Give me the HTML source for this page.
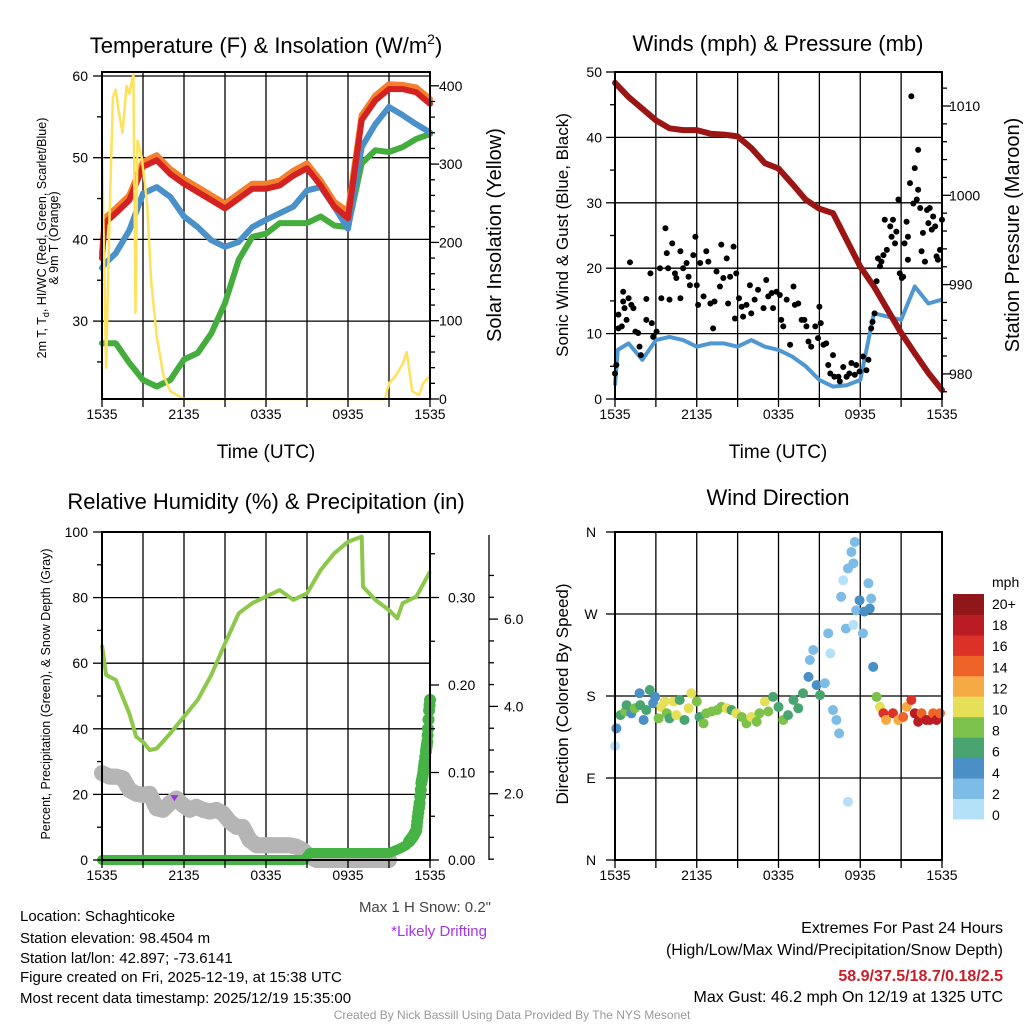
<!DOCTYPE html>
<html><head><meta charset="utf-8"><style>
html,body{margin:0;padding:0;background:#fff}
svg{display:block;font-family:"Liberation Sans",Arial,sans-serif}
</style></head><body>
<svg id="c" width="1024" height="1024" viewBox="0 0 1024 1024" xmlns="http://www.w3.org/2000/svg">
<rect x="0" y="0" width="1024" height="1024" fill="#fff"/>
<text x="266" y="53" font-size="22" text-anchor="middle">Temperature (F) &amp; Insolation (W/m<tspan dy="-9" font-size="14">2</tspan><tspan dy="9">)</tspan></text>
<text x="778" y="51" font-size="22" text-anchor="middle">Winds (mph) &amp; Pressure (mb)</text>
<text x="266" y="509" font-size="22" text-anchor="middle">Relative Humidity (%) &amp; Precipitation (in)</text>
<text x="778" y="505" font-size="22" text-anchor="middle">Wind Direction</text>
<text x="266" y="458" font-size="19" text-anchor="middle">Time (UTC)</text>
<text x="778" y="458" font-size="19" text-anchor="middle">Time (UTC)</text>
<text transform="translate(46,238) rotate(-90)" font-size="12.5" text-anchor="middle">2m T, T<tspan font-size="9" dy="3">d</tspan><tspan dy="-3">, HI/WC (Red, Green, Scarlet/Blue)</tspan></text>
<text transform="translate(58,238) rotate(-90)" font-size="12.5" text-anchor="middle">&amp; 9m T (Orange)</text>
<text transform="translate(501,235) rotate(-90)" font-size="20" text-anchor="middle">Solar Insolation (Yellow)</text>
<text transform="translate(568,235) rotate(-90)" font-size="17" text-anchor="middle">Sonic Wind &amp; Gust (Blue, Black)</text>
<text transform="translate(1019,235) rotate(-90)" font-size="20" text-anchor="middle">Station Pressure (Maroon)</text>
<text transform="translate(50,694) rotate(-90)" font-size="12.5" text-anchor="middle">Percent, Precipitation (Green), &amp; Snow Depth (Gray)</text>
<text transform="translate(568,694) rotate(-90)" font-size="17" text-anchor="middle">Direction (Colored By Speed)</text>
<text x="992" y="587" font-size="14">mph</text>
<g font-size="15">
<text x="20" y="921">Location: Schaghticoke</text>
<text x="20" y="943">Station elevation: 98.4504 m</text>
<text x="20" y="963">Station lat/lon: 42.897; -73.6141</text>
<text x="20" y="982">Figure created on Fri, 2025-12-19, at 15:38 UTC</text>
<text x="20" y="1003">Most recent data timestamp: 2025/12/19 15:35:00</text>
</g>
<text x="491" y="912" font-size="15" fill="#444" text-anchor="end">Max 1 H Snow: 0.2"</text>
<text x="487" y="936" font-size="15" fill="#a336e6" text-anchor="end">*Likely Drifting</text>
<g font-size="16" text-anchor="end">
<text x="1003" y="933">Extremes For Past 24 Hours</text>
<text x="1003" y="955">(High/Low/Max Wind/Precipitation/Snow Depth)</text>
<text x="1003" y="981" font-weight="bold" fill="#c81e28">58.9/37.5/18.7/0.18/2.5</text>
<text x="1003" y="1002">Max Gust: 46.2 mph On 12/19 at 1325 UTC</text>
</g>
<text x="512" y="1019" font-size="12" fill="#999" text-anchor="middle">Created By Nick Bassill Using Data Provided By The NYS Mesonet</text>
</svg>
<script>
// ---- data ----
const tempHours = [0,0.2,1,2,3,4,5,6,7,8,9,10,11,12,13,14,15,16,17,18,19,20,21,22,23,24];
const tempRed = [37.7,42.0,43.2,44.8,48.9,49.7,48,46.8,45.8,44.8,43.8,45,46.2,46.2,46.6,47.8,48.7,46.6,44,42.6,54.6,57,58.4,58.4,58,56.6];
const tempOrange = [38.3,42.6,43.8,45.4,49.5,50.3,48.6,47.4,46.4,45.4,44.4,45.6,46.8,46.8,47.2,48.4,49.3,47.2,44.6,43.4,55.2,57.6,59,58.9,58.6,57.2];
const tempBlue = [36.5,37.0,38.3,41.1,45.6,46.4,45.2,42.8,41.5,39.9,39.1,39.7,41.5,42.4,43.2,44,46,46.4,44,41.3,51.3,54.1,56.2,55.2,54.1,53.1];
const dewGreen = [27.3,27.3,27.3,24.9,22.8,22,22.8,25.3,26.1,28.5,32.2,37.5,40.3,40.7,42,42,42,42.8,41.7,41.5,49.3,50.9,50.7,51.3,52.3,52.9];
const solHours = [0,0.3,0.55,0.8,1.0,1.2,1.5,1.8,2.0,2.3,2.45,2.6,2.9,3.3,3.6,4.0,4.5,5.0,6.0,20.7,21.0,21.5,22.0,22.3,22.7,23.2,23.5,24];
const solVals = [320,40,230,385,395,370,340,400,390,415,110,330,310,250,150,80,30,10,0,0,20,30,45,60,10,5,20,30];
const tempTicks = [30,40,50,60];
const solTicks = [0,100,200,300,400];
const timeLabels = ["1535","2135","0335","0935","1535"];

const windHours = [0,0.2,1,2,3,4,5,6,7,8,9,10,11,12,13,14,15,16,17,18,19,20,21,22,23,24];
const windVals = [2.1,7.5,8.5,6,9,9.5,9,8,8.5,8.5,8,9,8,7.5,6.5,5,2.9,1.9,2.1,2.9,13.1,12.6,12.1,17.2,14.6,15.2];
const presHours = [0,1,2,3,4,5,6,7,8,9,10,11,12,13,14,15,16,17,18,19,20,21,22,23,24];
const presVals = [1012.6,1011,1009.7,1008.4,1007.5,1007.3,1007.3,1006.9,1006.8,1006.6,1005.3,1003.6,1003,1001.3,999.5,998.5,998,995,992,989.8,987.2,984.6,982.3,980.1,978.2];
const gustHours = [0,0.1,0.25,0.5,0.25,0.6,0.6,0.7,0.85,1,1.1,1.2,1.35,1.5,1.7,1.8,1.9,2.3,2.3,2.6,2.7,2.8,3.05,3.3,3.4,3.7,3.8,3.9,4.0,4.2,4.4,4.5,4.8,4.8,5.0,5.25,5.4,5.5,5.75,5.9,6.0,6.1,6.25,6.5,6.7,6.85,7,7.2,7.3,7.45,7.7,7.8,7.95,8.2,8.3,8.45,8.7,8.8,8.9,9.1,9.3,9.4,9.65,9.9,10,10.25,10.5,10.9,11.1,11.25,11.5,11.6,11.85,12.1,12.2,12.35,12.6,12.85,13.1,13.2,13.45,13.7,13.9,14.05,14.2,14.4,14.7,14.9,15,15.1,15.3,15.5,15.65,15.8,16,16.1,16.4,16.5,16.75,17,17.2,17.35,17.6,17.7,17.95,18.2,18.45,18.6,18.8,18.9,19.05,19.2,19.3,19.45,19.55,19.7,19.8,19.95,20.2,20.3,20.4,20.55,20.65,20.8,20.9,21.05,21.15,21.25,21.4,21.5,21.5,21.65,21.75,21.9,22,22.15,22.25,22.25,22.4,22.5,22.6,22.75,22.9,23,23.1,23.25,23.35,23.5,23.6,23.7,23.85,24];
const gustVals = [3.9,5.2,10.8,11.1,12.9,14.9,16.4,13.9,12.1,15.4,20.9,14.4,13.9,10.3,10.1,8,6.7,12.1,15.3,19.2,11.6,9.5,10.3,20,15.4,26.1,22.3,20,15.2,23.8,19.2,18.5,22.6,15.4,20,20.8,18.7,17.4,22,24.8,17.4,14.4,20.8,15.7,22.6,21,14.6,10.8,14.9,19.5,17.2,23.6,18.5,21.5,14.6,18.7,23.3,12.3,19.2,15.4,14.1,12.6,14.4,17.4,13.1,15.2,16.7,13.9,18.2,15.7,16.2,13.9,16.4,15.9,12.1,11.1,15.2,8.3,17.2,14.4,14.6,12.1,12.1,11.1,8.8,8,11.1,9.3,14.1,11.6,8.3,8.5,5.2,3.9,6.7,3.4,3.4,2.7,4.9,3.4,3.9,5.5,3.7,5.2,4.2,6.5,4.4,6,10.8,11.8,13.1,18,21.5,20.3,21,22,27.4,22.8,26.4,24.8,27.4,23.8,25.6,30.5,19.2,18.5,18.7,23.8,27.1,24.8,21.3,33,46.3,29.9,35.3,30.5,38.1,32,29.2,22.6,25.4,21,28.9,26.9,29.2,25.9,27.9,26.4,21.8,21.3,22.8,27.4];
const windTicks = [0,10,20,30,40,50];
const presTicks = [980,990,1000,1010];

const rhHours = [0,0.3,1,2,2.5,3,3.5,4,5,6,7,8,9,10,11,12,13,14,15,16,17,18,19,19.1,20,21,21.6,22,23,24];
const rhVals = [65.5,56.4,54.9,44.7,37.6,36,33.5,34,38.6,43.7,48.8,56.4,66,75.2,78.3,80.3,82.3,79.3,81.3,88.4,93.5,97,98.6,83.3,79.3,76.2,73.7,78.3,80.3,87.9];
const snowHours = [0,0.56,1.05,1.54,2.02,2.51,3,3.49,3.98,4.46,4.95,5.44,5.93,6.41,6.9,7.39,7.88,8.37,8.85,9.34,9.83,10.3,10.56,10.8,11.3,11.78,12.27,12.76,13.24,13.73,14.2,14.7,15.2,15.7,16.17,16.66,18.4,19.2,20.0,21.0];
const snowDepth = [2.47,2.39,2.39,2.35,2.08,2.0,1.97,2.0,1.67,1.63,1.78,1.89,1.74,1.63,1.70,1.63,1.59,1.63,1.55,1.36,1.24,1.24,1.09,0.94,0.82,0.82,0.82,0.82,0.82,0.82,0.79,0.71,0.56,0.48,0.48,0.48,0.48,0.48,0.48,0.48];
const precipHours = [0,14.8,15.2,21.0,21.8,22.27,22.76,23,23.1,23.24,23.37,23.5,23.6,23.7,23.8,23.85,23.93,24];
const precipVals = [0,0,0.008,0.008,0.013,0.017,0.027,0.034,0.049,0.065,0.088,0.099,0.112,0.124,0.135,0.15,0.171,0.183];
const driftHour = [5.3];
const driftDepth = [1.9];
const rhTicks = [0,20,40,60,80,100];
const precipTicks = ["0.00","0.10","0.20","0.30"];
const snowTicks = ["2.0","4.0","6.0"];

const dirHours = [0,0.1,0.4,0.75,0.85,1.2,1.45,1.8,1.85,2.1,2.3,2.55,2.8,2.95,3.2,3.4,3.65,3.8,4.0,4.3,4.5,4.75,5.1,5.4,5.6,6.0,6.2,6.5,6.7,7.1,7.5,7.8,8.2,8.55,8.9,9.3,9.65,10,10.4,10.6,11,11.25,11.6,12,12.35,12.7,13.1,13.45,13.8,14.2,14.3,14.55,14.8,15.05,15.4,15.65,15.8,16,16.25,16.45,16.6,16.75,16.95,17.1,17.35,17.6,17.5,17.1,17.5,17.7,17.95,18.2,18.3,18.6,18.7,18.8,18.95,19.2,19.45,19.7,19.9,20.4,20.8,21.15,21.4,21.75,22,22.25,22.5,22.85,23.1,23.35,23.6,23.85];
const dirDeg = [125,144.5,159,163,170,161,166.5,183,170,153.7,164.6,186.6,172,179,155.5,168,174,161,155.5,174,159,175.6,153.7,166.5,183,174,157,150,161,163,164.6,168,166.5,164.6,161,157,150,157,151.8,161,174,163,179,168,153.7,159,175.6,166.5,183,201,219.5,230.5,192,181,194,248.8,226.8,164.6,153.7,139,289,307,254,320,338,349,325.6,64,258,274,285,248.8,272.6,303.7,276,287,212,179,168,161,153.7,161,153.7,157,168,175.6,161,151.8,161,153.7,153.7,161,153.7,161];
const dirSpeed = [1.5,5,7,8,7,5,8,5,6,5,6,7,5,5,9,10,10,8,7,10,10,6,7,10,11,8,6,8,8,8,8,8,10,7,10,8,8,10,9,8,10,8,7,6,9,6,7,6,6,4,3,3,4,6,3,3,1.5,3,3,3,3,1.5,3,3,3,3,3,1.5,1.5,3,4,3,4,3,5,3,5,9,10,16,13,16,12,14,12,17,18,19,15,18,18,14,18,14];
const dirLabels = ["N","E","S","W","N"];
const speedBins = ["0","2","4","6","8","10","12","14","16","18","20+"];
const binColors = ["#b5e1f8","#7dbce6","#4a8fc6","#48a56f","#7cc24a","#e6e058","#f6aa45","#ee6428","#dc3127","#bb1c24","#911619"];

// ---- helpers ----
const NS = "http://www.w3.org/2000/svg";
const svg = document.getElementById('c');
function mk(tag, attrs, parent) {
  const e = document.createElementNS(NS, tag);
  for (const k in attrs) e.setAttribute(k, attrs[k]);
  (parent || svg).appendChild(e);
  return e;
}
function hx(x0, x1) { return h => x0 + h * (x1 - x0) / 24; }
function pathFrom(hs, vs, xf, yf) {
  let d = "";
  for (let i = 0; i < hs.length; i++) d += (i ? "L" : "M") + xf(hs[i]).toFixed(1) + "," + yf(vs[i]).toFixed(1);
  return d;
}
function frame(name, x0, y0, x1, y1) {
  const g = mk('g', {});
  
  
  for (let i = 1; i < 8; i++) {
    const x = x0 + i * (x1 - x0) / 8;
    const l = mk('line', {x1: x, y1: y0, x2: x, y2: y1, stroke: "#000", "stroke-width": 1.3}, g);
    
    
  }
  return g;
}
function hline(g, name, x0, x1, y) {
  const l = mk('line', {x1: x0, y1: y, x2: x1, y2: y, stroke: "#000", "stroke-width": 1.3}, g);
  
  
}
function box(name, x0, y0, x1, y1) {
  const r = mk('rect', {x: x0, y: y0, width: x1 - x0, height: y1 - y0, fill: "none", stroke: "#000", "stroke-width": 2});
  
  
}
function tick(name, x1, y1, x2, y2) {
  const l = mk('line', {x1: x1, y1: y1, x2: x2, y2: y2, stroke: "#000", "stroke-width": 1.3});
  
  
}
function label(name, x, y, s, anchor, size) {
  const t = mk('text', {x: x, y: y, "font-size": size || 14, "text-anchor": anchor || "middle"});
  t.textContent = s;
  
  
  return t;
}
function timeAxis(name, xf, yb) {
  for (let h = 0; h <= 24; h += 3) tick(name + '-tick', xf(h), yb, xf(h), yb + 8);
  timeLabels.forEach((s, i) => label(name + '-label', xf(i * 6), yb + 20, s));
}
function interpDots(hs, vs, step, cb) {
  for (let i = 0; i < hs.length - 1; i++) {
    const dt = hs[i + 1] - hs[i];
    const n = dt > 0.9 && vs[i] !== vs[i+1] ? 1 : Math.max(1, Math.ceil(dt / step));
    for (let k = 0; k < n; k++) {
      const f = k / n;
      cb(hs[i] + f * dt, vs[i] + f * (vs[i + 1] - vs[i]));
    }
  }
  cb(hs[hs.length - 1], vs[vs.length - 1]);
}

// ===== Panel 1: Temperature =====
{
  const X0 = 102, X1 = 430, Y0 = 72, Y1 = 399;
  const xf = hx(X0, X1);
  const ty = v => 76 + (60 - v) * 8.17;
  const sy = v => 399 - v * 0.783;
  const g = frame('temperature', X0, Y0, X1, Y1);
  tempTicks.forEach(v => hline(g, 'temperature-hgrid', X0, X1, ty(v)));
  const series = [["dewpoint-line", dewGreen, "#45ad3d"], ["hiwc-line", tempBlue, "#4a90c9"], ["9m-temp-line", tempOrange, "#f47f2c"], ["2m-temp-line", tempRed, "#d42222"]];
  series.forEach(s => {
    const p = mk('path', {d: pathFrom(tempHours, s[1], xf, ty), fill: "none", stroke: s[2], "stroke-width": 6, "stroke-linejoin": "round", "stroke-linecap": "round"});
    
    
  });
  const ys = mk('path', {d: pathFrom(solHours, solVals, xf, sy), fill: "none", stroke: "#ffe25a", "stroke-width": 2.5, "stroke-linejoin": "round"});
  
  
  box('temperature', X0, Y0, X1, Y1);
  tempTicks.forEach(v => { tick('temperature-y-tick', X0, ty(v), X0 - 9, ty(v)); label('temperature-y-label', X0 - 14, ty(v) + 5, String(v), "end"); });
  [25, 35, 45, 55].forEach(v => tick('temperature-y-minor-tick', X0, ty(v), X0 - 5, ty(v)));
  for (let v = 0; v <= 400; v += 20) tick('insolation-y-tick', X1, sy(v), X1 + (v % 100 ? 5 : 9), sy(v));
  solTicks.forEach(v => label('insolation-y-label', X1 + 9, sy(v) + 5, String(v), "start"));
  timeAxis('temperature-x', xf, Y1);
}

// ===== Panel 2: Winds =====
{
  const X0 = 615, X1 = 942, Y0 = 72, Y1 = 399;
  const xf = hx(X0, X1);
  const wy = v => 399 - v * 6.54;
  const py = v => 106 + (1010 - v) * 8.93;
  const g = frame('winds', X0, Y0, X1, Y1);
  windTicks.forEach(v => hline(g, 'winds-hgrid', X0, X1, wy(v)));
  const wp = mk('path', {d: pathFrom(windHours, windVals, xf, wy), fill: "none", stroke: "#4f97d2", "stroke-width": 4, "stroke-linejoin": "round"});
  
  
  const pp = mk('path', {d: pathFrom(presHours, presVals, xf, py), fill: "none", stroke: "#9b1515", "stroke-width": 6, "stroke-linejoin": "round", "stroke-linecap": "round"});
  
  
  const gg = mk('g', {});
  
  
  gustHours.forEach((h, i) => {
    const c = mk('circle', {cx: xf(h), cy: wy(gustVals[i]), r: 3, fill: "#000"}, gg);
    
    
  });
  box('winds', X0, Y0, X1, Y1);
  windTicks.forEach(v => { tick('wind-y-tick', X0, wy(v), X0 - 9, wy(v)); label('wind-y-label', X0 - 13, wy(v) + 5, String(v), "end"); });
  [5, 15, 25, 35, 45].forEach(v => tick('wind-y-minor-tick', X0, wy(v), X0 - 5, wy(v)));
  for (let v = 978; v <= 1012; v += 2) tick('pressure-y-tick', X1, py(v), X1 + (v % 10 ? 5 : 9), py(v));
  presTicks.forEach(v => label('pressure-y-label', X1 + 7, py(v) + 5, String(v), "start"));
  timeAxis('winds-x', xf, Y1);
}

// ===== Panel 3: Humidity / Precip / Snow =====
{
  const X0 = 102, X1 = 430, Y0 = 532, Y1 = 860;
  const xf = hx(X0, X1);
  const ry = v => 860 - v * 3.28;
  const pry = v => 860 - v * 875;
  const sny = v => 881 - v * 43.65;
  const g = frame('humidity', X0, Y0, X1, Y1);
  rhTicks.forEach(v => hline(g, 'humidity-hgrid', X0, X1, ry(v)));
  const sg = mk('g', {});
  
  
  interpDots(snowHours, snowDepth, 0.12, (h, v) => {
    const c = mk('circle', {cx: xf(h), cy: Math.min(sny(v), 860), r: 8, fill: "#b5b5b5"}, sg);
    
    
  });
  const dp = mk('path', {d: "M" + (xf(driftHour[0]) - 4) + "," + (sny(driftDepth[0]) - 3) + "h8l-4,6z", fill: "#a12ee0"});
  
  
  const rp = mk('path', {d: pathFrom(rhHours, rhVals, xf, ry), fill: "none", stroke: "#8dc84b", "stroke-width": 4, "stroke-linejoin": "round"});
  
  
  const pg = mk('g', {});
  
  
  interpDots(precipHours, precipVals, 0.05, (h, v) => {
    const c = mk('circle', {cx: xf(h), cy: pry(v), r: v > 0.02 ? 6 : 5, fill: "#45b345"}, pg);
    
    
  });
  box('humidity', X0, Y0, X1, Y1);
  rhTicks.forEach(v => { tick('humidity-y-tick', X0, ry(v), X0 - 9, ry(v)); label('humidity-y-label', X0 - 14, ry(v) + 5, String(v), "end"); });
  [10, 30, 50, 70, 90].forEach(v => tick('humidity-y-minor-tick', X0, ry(v), X0 - 5, ry(v)));
  for (let k = 0; k <= 7; k++) { const v = k * 0.05; tick('precip-y-tick', X1, pry(v), X1 + (k % 2 ? 5 : 9), pry(v)); }
  precipTicks.forEach(s => label('precip-y-label', X1 + 18, pry(parseFloat(s)) + 5, s, "start"));
  tick('snow-axis-line', 489, 535, 489, 860);
  for (let k = 0; k <= 14; k++) { const v = k * 0.5; const y = sny(v); if (y >= 535 && y <= 860) tick('snow-y-tick', 489, y, 489 + (k % 4 ? 5 : 9), y); }
  snowTicks.forEach(s => label('snow-y-label', 504, sny(parseFloat(s)) + 5, s, "start"));
  timeAxis('humidity-x', xf, Y1);
}

// ===== Panel 4: Wind direction =====
{
  const X0 = 615, X1 = 942, Y0 = 532, Y1 = 860;
  const xf = hx(X0, X1);
  const dy = d => 860 - d * 328 / 360;
  const g = frame('direction', X0, Y0, X1, Y1);
  [90, 180, 270].forEach(d => hline(g, 'direction-hgrid', X0, X1, dy(d)));
  const colorFor = s => binColors[Math.min(10, Math.floor(s / 2))];
  const dg = mk('g', {});
  
  
  dirHours.forEach((h, i) => {
    const c = mk('circle', {cx: xf(h), cy: dy(dirDeg[i]), r: 5, fill: colorFor(dirSpeed[i])}, dg);
    
    
  });
  box('direction', X0, Y0, X1, Y1);
  dirLabels.forEach((s, i) => { tick('direction-y-tick', X0, dy(i * 90), X0 - 9, dy(i * 90)); label('direction-y-label', X0 - 24, dy(i * 90) + 5, s, "middle"); });
  timeAxis('direction-x', xf, Y1);
  const bh = 20.45;
  binColors.forEach((col, i) => {
    const r = mk('rect', {x: 953, y: 594 + (10 - i) * bh, width: 31, height: bh + 0.5, fill: col});
    
    
  });
  speedBins.forEach((s, i) => label('colorbar-label', 992, 609 + (10 - i) * 21.1, s, "start"));
}
</script>
</body></html>
